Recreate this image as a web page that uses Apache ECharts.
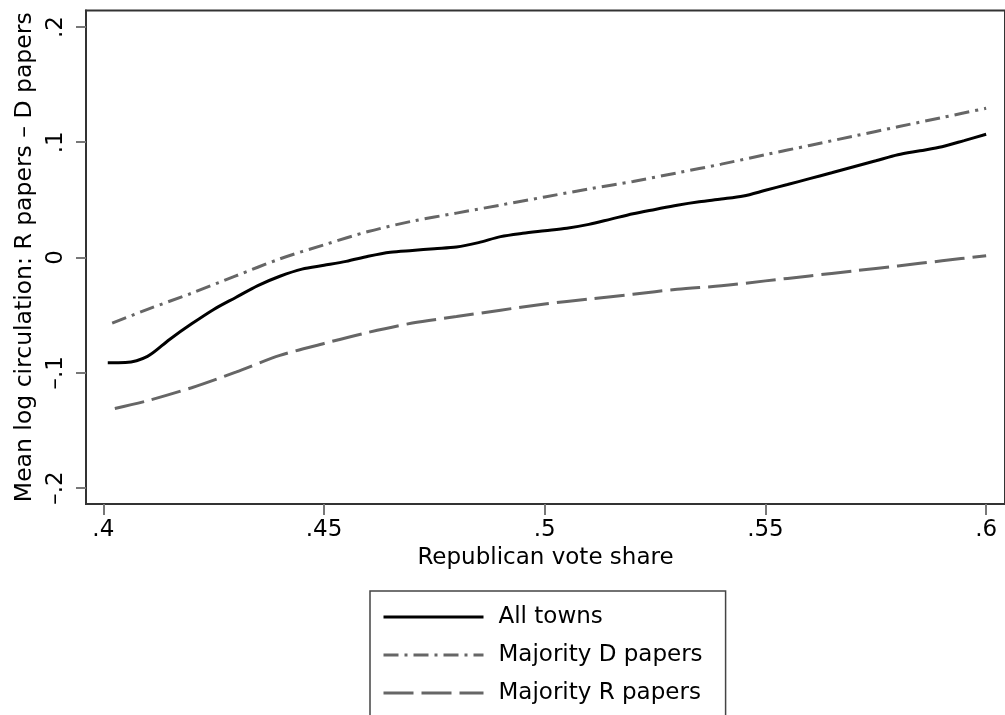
<!DOCTYPE html>
<html>
<head>
<meta charset="utf-8">
<script src="https://cdn.jsdelivr.net/npm/echarts@6/dist/echarts.min.js"></script>
<style>
html,body{margin:0;padding:0;background:#fff;}
#chart{width:1005px;height:715px;}
</style>
</head>
<body>
<div id="chart"></div>
<script>
// ---- data ----
const allX = [0.401,0.405,0.41,0.415,0.42,0.425,0.43,0.435,0.44,0.445,0.45,0.455,0.46,0.465,0.47,0.475,0.48,0.485,0.49,0.495,0.5,0.505,0.51,0.515,0.52,0.525,0.53,0.535,0.54,0.545,0.55,0.555,0.56,0.565,0.57,0.575,0.58,0.585,0.59,0.595,0.6];
const allY = [-0.0913,-0.0911,-0.0858,-0.0711,-0.0576,-0.0451,-0.0347,-0.0244,-0.0163,-0.0101,-0.0068,-0.0034,0.001,0.0045,0.0061,0.0076,0.009,0.0129,0.0181,0.021,0.0232,0.0254,0.0287,0.0333,0.0379,0.0417,0.0454,0.0484,0.0507,0.0533,0.0583,0.0633,0.0684,0.0735,0.0787,0.0839,0.0892,0.0926,0.0961,0.1014,0.1069];

const demX = [0.402,0.41,0.42,0.43,0.44,0.45,0.46,0.47,0.48,0.49,0.5,0.51,0.52,0.53,0.54,0.55,0.56,0.57,0.58,0.59,0.6];
const demY = [-0.057,-0.045,-0.031,-0.016,-0.0012,0.011,0.0225,0.0315,0.0385,0.0455,0.0525,0.0595,0.066,0.0734,0.081,0.0892,0.0972,0.1053,0.1134,0.1214,0.1295];

const repX = [0.4026,0.41,0.42,0.43,0.44,0.45,0.46,0.47,0.48,0.49,0.5,0.51,0.52,0.53,0.54,0.55,0.56,0.57,0.58,0.59,0.6];
const repY = [-0.131,-0.1243,-0.113,-0.0995,-0.085,-0.0746,-0.065,-0.0569,-0.0513,-0.0457,-0.0404,-0.0361,-0.0319,-0.0276,-0.0246,-0.0203,-0.016,-0.0117,-0.0073,-0.0029,0.0016];

const seriesNames = ['All towns','Majority D papers','Majority R papers'];

const xTicks = [0.4,0.45,0.5,0.55,0.6];
const xTickLabels = ['.4','.45','.5','.55','.6'];
const yTicks = [-0.2,-0.1,0,0.1,0.2];
const yTickLabels = ['–.2','–.1','0','.1','.2'];

const xTitle = 'Republican vote share';
const yTitle = 'Mean log circulation: R papers – D papers';

// ---- helpers ----
function pairs(xs, ys){ return xs.map((x,i)=>[x, ys[i]]); }
function tickLabel(ticks, labels){
  return function(v){
    for (let i=0;i<ticks.length;i++){ if (Math.abs(ticks[i]-v) < 1e-6) return labels[i]; }
    return '';
  };
}

const FONT = 'DejaVu Sans';
const chart = echarts.init(document.getElementById('chart'), null, {renderer:'canvas'});
chart.setOption({
  animation:false,
  backgroundColor:'#fff',
  grid:{left:86, top:10.5, width:926, height:493.5, show:true, borderColor:'#333', borderWidth:2, backgroundColor:'transparent'},
  xAxis:{
    type:'value', min:0.39607, max:0.60427,
    name:xTitle, nameLocation:'middle', nameGap:42,
    nameTextStyle:{fontFamily:FONT, fontSize:23, color:'#000'},
    axisLine:{show:true, onZero:false, lineStyle:{color:'#333', width:2}},
    axisTick:{show:true, customValues:xTicks, length:11, lineStyle:{color:'#777', width:2}},
    axisLabel:{customValues:xTicks, formatter:tickLabel(xTicks,xTickLabels), margin:15, fontFamily:FONT, fontSize:23, color:'#000'},
    splitLine:{show:false}
  },
  yAxis:{
    type:'value', min:-0.2139, max:0.2143,
    name:yTitle, nameLocation:'middle', nameGap:45, nameRotate:90,
    nameTextStyle:{fontFamily:FONT, fontSize:23.5, color:'#000'},
    axisLine:{show:true, onZero:false, lineStyle:{color:'#333', width:2}},
    axisTick:{show:true, customValues:yTicks, length:10, lineStyle:{color:'#777', width:2}},
    axisLabel:{customValues:yTicks, formatter:tickLabel(yTicks,yTickLabels), rotate:90, margin:18, fontFamily:FONT, fontSize:23, color:'#000'},
    splitLine:{show:false}
  },
  legend:{
    orient:'vertical', left:370, top:591, height:300,
    padding:[14,23,24,12],
    itemWidth:100, itemHeight:14, itemGap:14,
    borderColor:'#444', borderWidth:1.5, backgroundColor:'#fff',
    lineStyle:{width:3},
    itemStyle:{color:'rgba(0,0,0,0)', borderColor:'rgba(0,0,0,0)', borderWidth:0, opacity:0},
    textStyle:{fontFamily:FONT, fontSize:23, color:'#000', lineHeight:24, padding:[0,0,0,10]},
    data:seriesNames
  },
  series:[
    {name:seriesNames[0], type:'line', data:pairs(allX,allY), showSymbol:false, symbol:'none', smooth:0.3,
     lineStyle:{color:'#000', width:3}, itemStyle:{color:'#000'}},
    {name:seriesNames[1], type:'line', data:pairs(demX,demY), showSymbol:false, symbol:'none', smooth:0.3,
     lineStyle:{color:'#666', width:3, type:[15,6,3,6]}, itemStyle:{color:'#666'}},
    {name:seriesNames[2], type:'line', data:pairs(repX,repY), showSymbol:false, symbol:'none', smooth:0.3,
     lineStyle:{color:'#666', width:3, type:[30,8]}, itemStyle:{color:'#666'}}
  ]
});
</script>
</body>
</html>
